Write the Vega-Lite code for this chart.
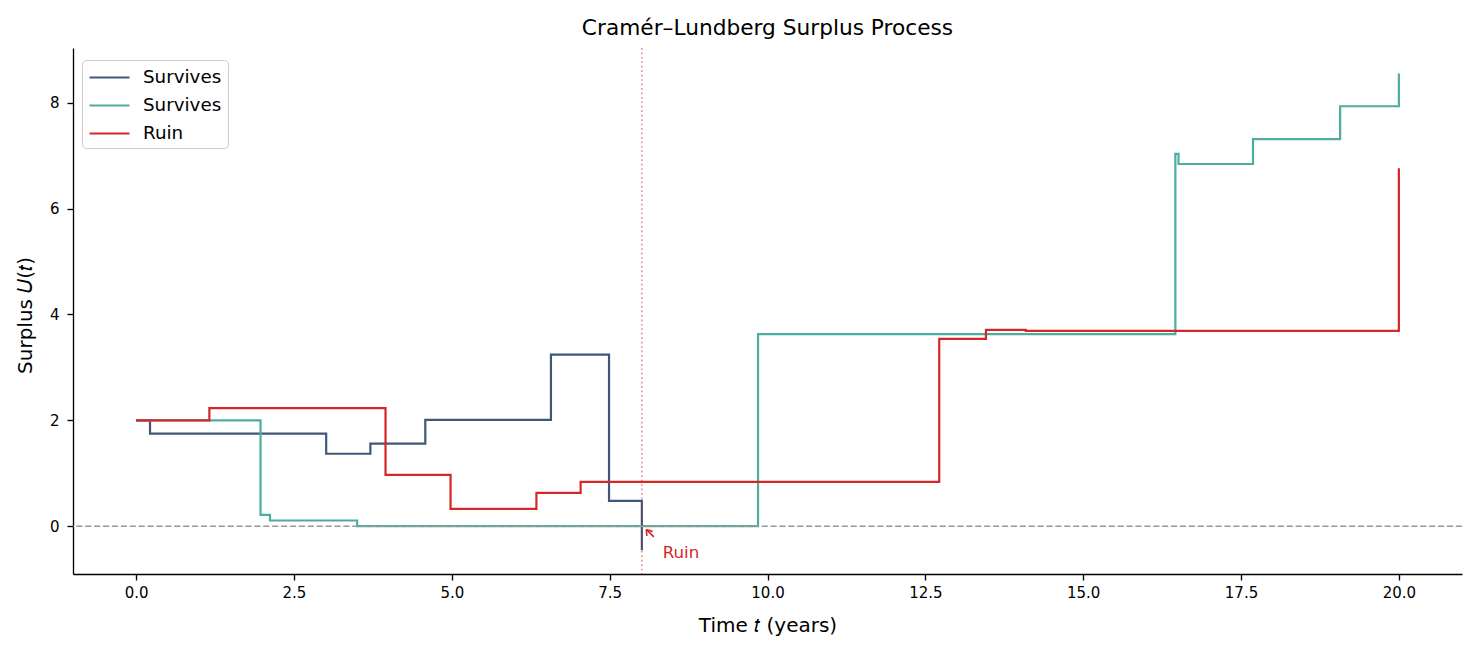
{
  "$schema": "https://vega.github.io/schema/vega-lite/v6.json",
  "width": 1389,
  "height": 526,
  "autosize": {"type": "none"},
  "padding": {"left": 73, "top": 48, "right": 14, "bottom": 80},
  "background": "white",
  "title": {
    "text": "Cramér–Lundberg Surplus Process",
    "font": "DejaVu Sans",
    "fontSize": 21.7,
    "fontWeight": "normal",
    "color": "#000000",
    "anchor": "middle",
    "frame": "group",
    "baseline": "alphabetic",
    "offset": -9
  },
  "config": {
    "view": {"stroke": null},
    "axis": {
      "grid": false,
      "domainColor": "#000000",
      "domainWidth": 1.33,
      "tickColor": "#000000",
      "tickWidth": 1.33,
      "tickSize": 6,
      "labelFont": "DejaVu Sans",
      "labelFontSize": 15,
      "labelColor": "#000000",
      "titleFont": "DejaVu Sans",
      "titleFontSize": 20,
      "titleFontWeight": "normal",
      "titleColor": "#000000"
    }
  },
  "layer": [
    {
      "data": {
        "values": [
          {"series": "A", "t": 0, "u": 2.0},
          {"series": "A", "t": 0.22, "u": 1.75},
          {"series": "A", "t": 3.01, "u": 1.37},
          {"series": "A", "t": 3.71, "u": 1.56},
          {"series": "A", "t": 4.58, "u": 2.01},
          {"series": "A", "t": 6.57, "u": 3.24},
          {"series": "A", "t": 7.49, "u": 0.48},
          {"series": "A", "t": 8.01, "u": -0.45},
          {"series": "B", "t": 0, "u": 2.0},
          {"series": "B", "t": 1.97, "u": 0.215},
          {"series": "B", "t": 2.12, "u": 0.11},
          {"series": "B", "t": 3.5, "u": 0.005},
          {"series": "B", "t": 9.85, "u": 3.63},
          {"series": "B", "t": 16.46, "u": 7.03},
          {"series": "B", "t": 16.51, "u": 6.84},
          {"series": "B", "t": 17.69, "u": 7.31},
          {"series": "B", "t": 19.07, "u": 7.93},
          {"series": "B", "t": 20.0, "u": 8.55},
          {"series": "C", "t": 0, "u": 2.0},
          {"series": "C", "t": 1.16, "u": 2.23},
          {"series": "C", "t": 3.95, "u": 0.97},
          {"series": "C", "t": 4.98, "u": 0.33},
          {"series": "C", "t": 6.34, "u": 0.63},
          {"series": "C", "t": 7.04, "u": 0.84},
          {"series": "C", "t": 12.72, "u": 3.54},
          {"series": "C", "t": 13.46, "u": 3.71},
          {"series": "C", "t": 14.09, "u": 3.69},
          {"series": "C", "t": 20.0, "u": 6.76}
        ]
      },
      "mark": {"type": "line", "interpolate": "step-after", "strokeWidth": 2.2},
      "encoding": {
        "x": {
          "field": "t", "type": "quantitative", "title": "Time 𝑡 (years)",
          "scale": {"domain": [-1, 21], "nice": false, "zero": false},
          "axis": {"values": [0, 2.5, 5, 7.5, 10, 12.5, 15, 17.5, 20], "format": ".1f", "labelPadding": 5, "titlePadding": 15}
        },
        "y": {
          "field": "u", "type": "quantitative", "title": "Surplus 𝑈(𝑡)",
          "scale": {"domain": [-0.9, 9.03], "nice": false, "zero": false},
          "axis": {"values": [0, 2, 4, 6, 8], "format": "d", "labelPadding": 8, "titlePadding": 14, "titleY": 267}
        },
        "color": {
          "field": "series", "type": "nominal",
          "scale": {"domain": ["A", "B", "C"], "range": ["#3f5878", "#4dad9e", "#d62728"]},
          "legend": {
            "orient": "none",
            "legendX": 9,
            "legendY": 12,
            "title": null,
            "labelExpr": "datum.value == 'C' ? 'Ruin' : 'Survives'",
            "symbolType": "M -1 0 L 3 0",
            "symbolSize": 400,
            "symbolStrokeWidth": 2.2,
            "labelFont": "DejaVu Sans",
            "labelFontSize": 18.3,
            "labelColor": "#000000",
            "labelOffset": 32,
            "padding": 6,
            "rowPadding": 8,
            "fillColor": "white",
            "strokeColor": "#cccccc",
            "cornerRadius": 4
          }
        }
      }
    },
    {
      "data": {"values": [{"u": 0}]},
      "mark": {"type": "rule", "stroke": "#999999", "strokeWidth": 1.5, "strokeDash": [6.2, 2.7]},
      "encoding": {
        "y": {"field": "u", "type": "quantitative", "title": "Surplus 𝑈(𝑡)", "scale": {"domain": [-0.9, 9.03], "nice": false, "zero": false}}
      }
    },
    {
      "data": {"values": [{"t": 8.01}]},
      "mark": {"type": "rule", "stroke": "#d62728", "opacity": 0.6, "strokeWidth": 1.4, "strokeDash": [1.7, 2.75]},
      "encoding": {
        "x": {"field": "t", "type": "quantitative", "title": "Time 𝑡 (years)", "scale": {"domain": [-1, 21], "nice": false, "zero": false}}
      }
    },
    {
      "data": {
        "values": [
          {"t": 8.2, "u": -0.2, "t2": 8.08, "u2": -0.06},
          {"t": 8.09, "u": -0.18, "t2": 8.08, "u2": -0.06},
          {"t": 8.18, "u": -0.1, "t2": 8.08, "u2": -0.06}
        ]
      },
      "mark": {"type": "rule", "stroke": "#d62728", "strokeWidth": 1.6},
      "encoding": {
        "x": {"field": "t", "type": "quantitative", "title": "Time 𝑡 (years)", "scale": {"domain": [-1, 21], "nice": false, "zero": false}},
        "y": {"field": "u", "type": "quantitative", "title": "Surplus 𝑈(𝑡)", "scale": {"domain": [-0.9, 9.03], "nice": false, "zero": false}},
        "x2": {"field": "t2"},
        "y2": {"field": "u2"}
      }
    },
    {
      "data": {"values": [{"t": 8.34, "u": -0.5, "label": "Ruin"}]},
      "mark": {"type": "text", "align": "left", "baseline": "middle", "font": "DejaVu Sans", "fontSize": 16.7, "color": "#d62728"},
      "encoding": {
        "x": {"field": "t", "type": "quantitative", "title": "Time 𝑡 (years)", "scale": {"domain": [-1, 21], "nice": false, "zero": false}},
        "y": {"field": "u", "type": "quantitative", "title": "Surplus 𝑈(𝑡)", "scale": {"domain": [-0.9, 9.03], "nice": false, "zero": false}},
        "text": {"field": "label"}
      }
    }
  ]
}
